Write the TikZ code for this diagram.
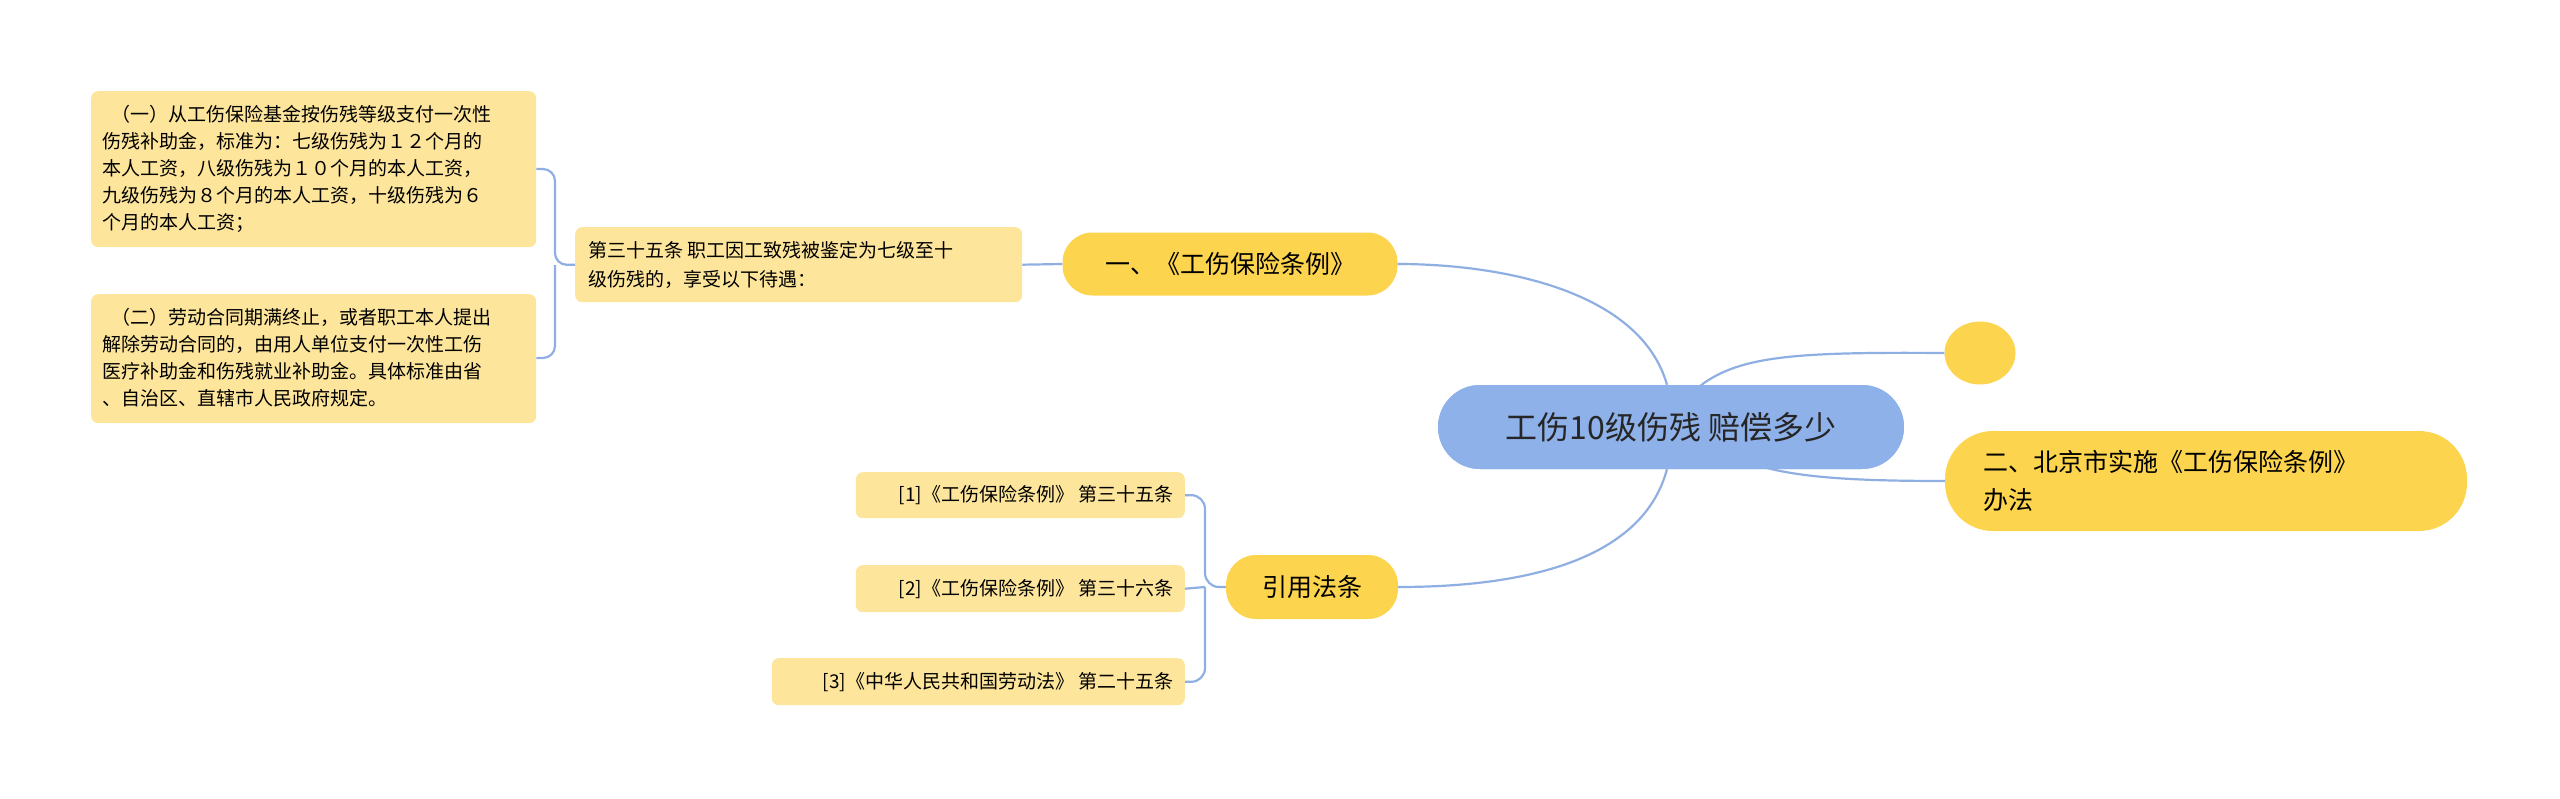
\documentclass[tikz,border=0pt]{standalone}
\usepackage{fontspec}
\usetikzlibrary{shapes.geometric}
\setmainfont{Noto Sans CJK SC}
\begin{document}
\begin{tikzpicture}[x=1pt,y=-1pt,
  line/.style={draw=lineblue,line width=2.2pt},
  leaf/.style={fill=lightyel,rounded corners=7pt,font=\fontsize{19}{29}\selectfont,align=left,inner sep=0pt,anchor=north west},
  mainbr/.style={fill=mainyel,rounded corners=30pt,font=\fontsize{25}{34}\selectfont,inner sep=0pt}]
\definecolor{lineblue}{HTML}{8FAFE3}
\definecolor{lightyel}{HTML}{FDE59B}
\definecolor{mainyel}{HTML}{FDD44E}
\definecolor{rootblue}{HTML}{8EB1EA}
\useasboundingbox (0,0) rectangle (2560,798);
% root
\node[fill=rootblue,rounded corners=42pt,minimum width=466pt,minimum height=84pt,font=\fontsize{32}{36}\selectfont,text=black!85] (root) at (1671,427) {工伤10级伤残 赔偿多少};
% main branches
\node[mainbr,minimum width=335pt,minimum height=63pt] (b1) at (1230,264) {一、《工伤保险条例》};
\node[mainbr,minimum width=172pt,minimum height=64pt] (b3) at (1312,587) {引用法条};
\node[fill=mainyel,ellipse,minimum width=71pt,minimum height=63pt,inner sep=0pt] (b0) at (1980,353) {};
\node[mainbr,minimum width=522pt,minimum height=100pt,rounded corners=48pt] (b2) at (2206,481) {};
\node[font=\fontsize{25}{38}\selectfont,align=left,anchor=west] (b2t) at (1980,481) {二、北京市实施《工伤保险条例》\\办法};
% sub boxes
\node[leaf,minimum width=447pt,minimum height=75pt] (s1) at (575,227) {};
\node[font=\fontsize{19}{29}\selectfont,align=left,anchor=west] at (585,265) {第三十五条 职工因工致残被鉴定为七级至十\\级伤残的，享受以下待遇：};
\node[leaf,minimum width=445pt,minimum height=156pt] (c1) at (91,91) {};
\node[font=\fontsize{19}{27}\selectfont,align=left,anchor=west] at (99,169) {\ \ （一）从工伤保险基金按伤残等级支付一次性\\伤残补助金，标准为：七级伤残为１２个月的\\本人工资，八级伤残为１０个月的本人工资，\\九级伤残为８个月的本人工资，十级伤残为６\\个月的本人工资；};
\node[leaf,minimum width=445pt,minimum height=129pt] (c2) at (91,294) {};
\node[font=\fontsize{19}{27}\selectfont,align=left,anchor=west] at (99,358) {\ \ （二）劳动合同期满终止，或者职工本人提出\\解除劳动合同的，由用人单位支付一次性工伤\\医疗补助金和伤残就业补助金。具体标准由省\\、自治区、直辖市人民政府规定。};
% refs
\node[leaf,minimum width=329pt,minimum height=46pt,anchor=north east] (r1) at (1185,472) {};
\node[font=\fontsize{19}{24}\selectfont,anchor=east] at (1177,495) {[1]《工伤保险条例》 第三十五条};
\node[leaf,minimum width=329pt,minimum height=47pt,anchor=north east] (r2) at (1185,565) {};
\node[font=\fontsize{19}{24}\selectfont,anchor=east] at (1177,589) {[2]《工伤保险条例》 第三十六条};
\node[leaf,minimum width=413pt,minimum height=47pt,anchor=north east] (r3) at (1185,658) {};
\node[font=\fontsize{19}{24}\selectfont,anchor=east] at (1177,682) {[3]《中华人民共和国劳动法》 第二十五条};
% connectors
\draw[line] (root.north) ++(-4,0) .. controls (1640,290) and (1500,264) .. (b1.east);
\draw[line] (root.south) ++(-4,0) .. controls (1640,570) and (1500,587) .. (b3.east);
\draw[line] (1700,386) .. controls (1740,355) and (1800,352) .. (b0.west);
\draw[line] (1760,466) .. controls (1800,478) and (1860,481) .. (b2.west);
\draw[line] (b1.west) -- (s1.east);
\draw[line,rounded corners=12pt] (s1.west) -- (555,265) -- (555,169) -- (c1.east |- 0,169);
\draw[line,rounded corners=12pt] (555,265) -- (555,358) -- (c2.east |- 0,358);
\draw[line,rounded corners=14pt] (b3.west) -- (1205,587) -- (1205,495) -- (r1.east);
\draw[line,rounded corners=14pt] (1205,587) -- (1205,682) -- (r3.east);
\draw[line] (1205,587) -- (r2.east);
% redraw root on top
\node[fill=rootblue,rounded corners=42pt,minimum width=466pt,minimum height=84pt,font=\fontsize{32}{36}\selectfont,text=black!85] at (1671,427) {工伤10级伤残 赔偿多少};
\end{tikzpicture}
\end{document}
